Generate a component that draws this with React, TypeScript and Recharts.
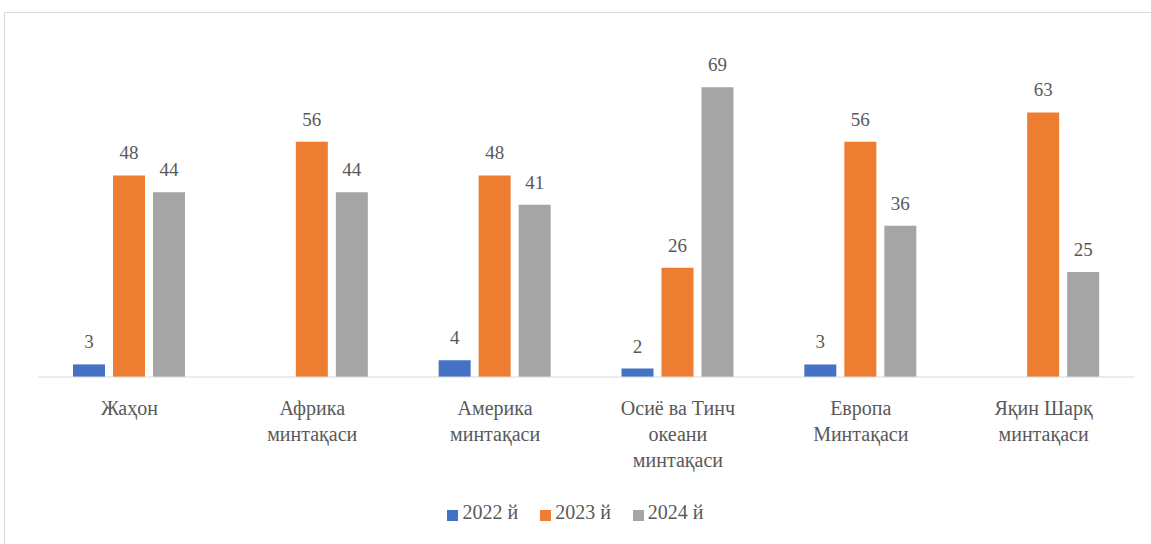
import React from 'react';
import { BarChart, Bar, XAxis, YAxis, Legend, LabelList } from 'recharts';

// categories (lines of each x label)
const regions = [
  ['Жаҳон'],
  ['Африка', 'минтақаси'],
  ['Америка', 'минтақаси'],
  ['Осиё ва Тинч', 'океани', 'минтақаси'],
  ['Европа', 'Минтақаси'],
  ['Яқин Шарқ', 'минтақаси'],
];

const y2022 = [3, null, 4, 2, 3, null];
const y2023 = [48, 56, 48, 26, 56, 63];
const y2024 = [44, 44, 41, 69, 36, 25];

const data = regions.map((lines, i) => ({
  name: lines.join(' '),
  lines,
  y2022: y2022[i],
  y2023: y2023[i],
  y2024: y2024[i],
}));

const FONT = 'Liberation Serif, DejaVu Serif, serif';
const TEXT = '#595959';

const RegionTick = (props: any) => {
  const { x, y, payload } = props;
  const lines = regions[payload.index] ?? [payload.value];
  return (
    <text x={x} y={y} textAnchor="middle" fill={TEXT} style={{ fontFamily: FONT, fontSize: 20 }}>
      {lines.map((l: string, i: number) => (
        <tspan key={i} x={x} dy={i === 0 ? 20 : 26}>
          {l}
        </tspan>
      ))}
    </text>
  );
};

const fmt = (v: any) => (v === null || v === undefined ? '' : v);

const labelStyle = { fontFamily: FONT, fontSize: 19 };

export default function App() {
  return (
    <div
      style={{
        position: 'absolute',
        left: 4,
        top: 12,
        width: 1160,
        height: 560,
        border: '1px solid #d9d9d9',
        background: '#fff',
        fontFamily: FONT,
      }}
    >
      <BarChart
        width={1146}
        height={531}
        data={data}
        margin={{ top: 28, right: 16, left: 33, bottom: 13 }}
        barSize={32}
        barGap={8}
      >
        <XAxis
          dataKey="name"
          tick={<RegionTick />}
          tickLine={false}
          axisLine={{ stroke: '#d9d9d9' }}
          interval={0}
          height={124}
          tickMargin={12}
        />
        <YAxis hide domain={[0, 80]} />
        <Legend
          verticalAlign="bottom"
          height={30}
          iconType="square"
          iconSize={11}
          formatter={(value) => (
            <span style={{ color: TEXT, fontFamily: FONT, fontSize: 20, marginRight: 12 }}>{value}</span>
          )}
        />
        <Bar dataKey="y2022" name="2022 й" fill="#4472C4" isAnimationActive={false}>
          <LabelList dataKey="y2022" position="top" offset={16} fill={TEXT} style={labelStyle} formatter={fmt} />
        </Bar>
        <Bar dataKey="y2023" name="2023 й" fill="#ED7D31" isAnimationActive={false}>
          <LabelList dataKey="y2023" position="top" offset={16} fill={TEXT} style={labelStyle} formatter={fmt} />
        </Bar>
        <Bar dataKey="y2024" name="2024 й" fill="#A5A5A5" isAnimationActive={false}>
          <LabelList dataKey="y2024" position="top" offset={16} fill={TEXT} style={labelStyle} formatter={fmt} />
        </Bar>
      </BarChart>
    </div>
  );
}
